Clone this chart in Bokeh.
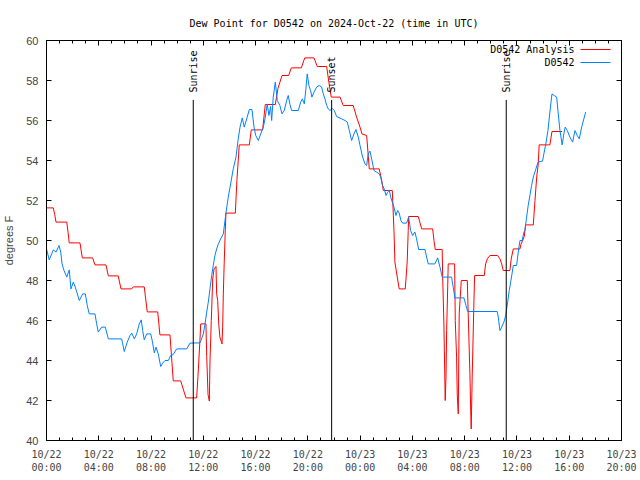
import math
from bokeh.plotting import figure
from bokeh.models import LinearAxis, FixedTicker, Range1d, Label, BoxAnnotation
from bokeh.core.properties import value
from bokeh.embed import file_html
from bokeh.resources import INLINE

MONO = "DejaVu Sans Mono"
SANS = "Liberation Sans"

title_text = "Dew Point for D0542 on 2024-Oct-22 (time in UTC)"
y_label = "degrees F"

# hours since 2024-10-22 00:00 UTC
analysis_hours = [0.00, 0.52, 0.63, 0.73, 1.55, 1.65, 1.74, 2.56, 2.74, 3.53, 3.71, 4.55, 4.73, 5.49,
                  5.70, 6.52, 6.64, 7.48, 7.71, 8.51, 8.68, 9.45, 9.70, 10.27, 10.67, 11.49, 11.59,
                  11.74, 11.80, 12.20, 12.26, 12.36, 12.46, 12.51, 12.61, 12.72, 12.82, 12.97, 13.02,
                  13.10, 13.18, 13.27, 13.43, 13.48, 13.53, 13.60, 13.68, 13.73, 14.45, 14.57, 14.75,
                  15.52, 15.67, 16.54, 16.74, 17.51, 17.71, 18.02, 18.53, 18.73, 19.50, 19.76, 20.47,
                  20.72, 21.44, 21.61, 21.79, 22.46, 22.71, 23.47, 23.73, 23.99, 24.14, 24.50, 24.70,
                  25.46, 25.65, 25.77, 26.46, 26.59, 26.66, 26.84, 26.99, 27.45, 27.51, 27.60, 27.68,
                  27.71, 28.45, 28.71, 29.55, 29.65, 29.75, 30.28, 30.31, 30.41, 30.51, 30.57, 30.62,
                  30.70, 30.74, 31.23, 31.28, 31.38, 31.43, 31.51, 31.58, 31.74, 32.20, 32.27, 32.40,
                  32.46, 32.50, 32.58, 32.71, 32.76, 33.50, 33.60, 33.73, 33.93, 34.52, 34.70, 34.83,
                  34.95, 35.46, 35.56, 35.72, 36.23, 36.30, 36.56, 36.66, 37.25, 37.38, 37.51, 37.63,
                  37.70, 38.52, 38.68, 39.46]
analysis_vals = [51.63, 51.63, 51.30, 50.92, 50.92, 50.40, 49.88, 49.88, 49.13, 49.13, 48.78, 48.78,
                 48.23, 48.23, 47.58, 47.58, 47.68, 47.68, 46.43, 46.43, 45.28, 45.28, 42.98, 42.98,
                 42.13, 42.13, 43.20, 45.00, 45.83, 45.83, 44.20, 42.30, 41.97, 43.92, 46.00, 48.08,
                 48.58, 48.70, 47.33, 47.00, 45.83, 45.17, 44.83, 45.67, 47.33, 48.92, 50.50, 51.37,
                 51.37, 53.00, 54.78, 54.78, 55.53, 55.53, 56.80, 56.80, 57.60, 58.25, 58.25, 58.63,
                 58.63, 59.13, 59.13, 58.70, 58.70, 57.90, 57.17, 57.17, 56.75, 56.75, 56.17, 55.67,
                 55.33, 55.25, 53.58, 53.58, 53.00, 52.50, 52.50, 50.50, 48.92, 48.17, 47.58, 47.58,
                 48.08, 48.92, 50.50, 51.20, 51.20, 50.58, 50.58, 50.00, 49.55, 49.55, 48.33, 45.83,
                 42.00, 43.17, 45.50, 47.67, 48.83, 48.83, 46.00, 44.17, 42.33, 41.33, 46.33, 48.00,
                 48.00, 46.33, 43.33, 41.50, 40.58, 43.33, 47.00, 48.25, 48.25, 48.83, 49.08, 49.25,
                 49.25, 49.08, 48.83, 48.50, 48.50, 49.08, 49.58, 49.58, 49.80, 50.20, 50.78, 50.78,
                 52.00, 53.17, 53.83, 54.78, 54.78, 55.45, 55.45]

station_hours = [0.00, 0.21, 0.52, 0.73, 0.96, 1.09, 1.19, 1.34, 1.55, 1.74, 1.87, 2.05, 2.20, 2.36,
                 2.51, 2.77, 2.97, 3.12, 3.27, 3.71, 3.84, 3.96, 4.22, 4.50, 4.73, 5.75, 5.83, 5.95,
                 6.18, 6.39, 6.52, 6.72, 6.90, 7.10, 7.25, 7.36, 7.48, 7.67, 7.97, 8.09, 8.25, 8.38,
                 8.55, 8.74, 8.89, 9.07, 9.32, 9.50, 9.70, 9.96, 10.73, 10.98, 11.74, 11.82, 12.00,
                 12.13, 12.26, 12.38, 12.51, 12.64, 12.76, 12.89, 13.02, 13.15, 13.33, 13.53, 13.73,
                 13.91, 14.09, 14.29, 14.50, 14.67, 14.81, 14.98, 15.13, 15.32, 15.52, 15.72, 15.88,
                 16.01, 16.21, 16.39, 16.59, 16.72, 16.89, 17.02, 17.15, 17.23, 17.35, 17.51, 17.66,
                 17.86, 18.02, 18.19, 18.38, 18.50, 18.63, 18.76, 19.27, 19.45, 19.58, 19.73, 19.85,
                 19.95, 20.08, 20.21, 20.31, 20.47, 20.67, 20.87, 21.05, 21.18, 21.31, 21.44, 21.56,
                 21.69, 21.87, 22.02, 22.20, 22.59, 22.84, 23.02, 23.17, 23.35, 23.53, 23.68, 23.86,
                 23.99, 24.19, 24.37, 24.50, 24.62, 24.75, 24.88, 25.06, 25.26, 25.46, 25.57, 25.72,
                 25.84, 25.98, 26.10, 26.23, 26.34, 26.46, 26.59, 26.74, 26.87, 26.99, 27.12, 27.25,
                 27.56, 27.71, 27.86, 28.02, 28.19, 28.32, 28.48, 28.96, 29.09, 29.21, 29.72, 29.93,
                 30.11, 30.28, 31.00, 31.12, 31.25, 31.94, 32.10, 32.23, 34.49, 34.57, 34.70, 34.83,
                 35.00, 35.14, 35.29, 35.41, 35.54, 35.72, 35.97, 36.10, 36.23, 36.40, 36.53, 36.61,
                 36.74, 36.86, 36.99, 37.12, 37.25, 37.45, 37.61, 37.96, 38.06, 38.22, 38.37, 38.52,
                 38.68, 38.85, 39.04, 39.16, 39.29, 39.46, 39.59, 39.69, 39.85, 40.05, 40.26, 40.44,
                 40.61, 40.77, 40.95, 41.12, 41.26]
station_vals = [49.58, 49.03, 49.53, 49.42, 49.75, 49.42, 48.83, 48.50, 48.17, 48.53, 47.58, 47.92,
                47.67, 47.33, 47.00, 47.33, 47.33, 46.75, 46.33, 46.33, 45.83, 45.42, 45.67, 45.67,
                45.08, 45.08, 44.83, 44.45, 44.92, 45.25, 45.37, 45.08, 45.33, 45.83, 46.03, 45.50,
                45.03, 45.33, 45.33, 45.00, 44.38, 44.67, 44.33, 43.70, 43.87, 44.00, 44.00, 44.25,
                44.30, 44.58, 44.58, 44.87, 44.88, 45.00, 45.33, 45.83, 46.42, 46.92, 47.58, 48.25,
                48.75, 49.25, 49.58, 49.83, 50.08, 50.33, 51.37, 52.17, 52.83, 53.58, 54.17, 55.08,
                55.67, 56.13, 55.67, 56.08, 56.55, 56.55, 55.67, 55.25, 55.00, 55.33, 55.67, 56.08,
                56.83, 56.25, 56.70, 56.00, 57.17, 57.92, 57.00, 56.75, 56.33, 56.50, 57.00, 57.25,
                56.80, 56.50, 56.50, 56.92, 57.08, 56.83, 57.58, 58.33, 57.75, 57.50, 57.17, 57.42,
                57.67, 57.75, 57.67, 57.33, 57.08, 56.75, 56.58, 56.50, 56.60, 56.50, 56.20, 56.08,
                56.00, 55.92, 55.50, 55.00, 55.33, 55.55, 55.17, 54.75, 54.17, 53.83, 53.75, 54.33,
                54.47, 54.08, 53.50, 53.42, 53.33, 53.17, 52.75, 52.58, 52.25, 52.40, 52.53, 52.17,
                51.92, 51.67, 51.25, 51.50, 51.37, 51.00, 50.87, 50.87, 51.17, 50.50, 50.25, 50.42,
                50.08, 49.55, 49.55, 49.17, 48.83, 48.83, 49.13, 48.67, 48.17, 48.17, 47.67, 47.13,
                47.13, 46.75, 46.45, 46.45, 46.17, 45.50, 45.67, 45.92, 46.25, 46.92, 47.50, 48.00,
                48.75, 48.75, 49.42, 50.00, 50.00, 50.42, 50.50, 51.17, 51.75, 52.25, 52.75, 53.17,
                53.58, 53.92, 53.97, 54.33, 54.87, 55.50, 56.42, 57.33, 57.25, 57.17, 56.33, 55.50,
                54.78, 55.33, 55.67, 55.50, 55.17, 54.92, 55.50, 55.25, 55.08, 55.67, 56.08, 56.42]

event_hours = [11.23, 21.82, 35.18]
event_names = ["Sunrise", "Sunset", "Sunrise"]
event_line_top = 57.03
event_text_y = 57.4

x_tick_hours = [0, 4, 8, 12, 16, 20, 24, 28, 32, 36, 40, 44]
x_tick_labels = ["10/22\n00:00", "10/22\n04:00", "10/22\n08:00", "10/22\n12:00", "10/22\n16:00",
                 "10/22\n20:00", "10/23\n00:00", "10/23\n04:00", "10/23\n08:00", "10/23\n12:00",
                 "10/23\n16:00", "10/23\n20:00"]
x_minor_hours = list(range(0, 45))
y_ticks = [40, 42, 44, 46, 48, 50, 52, 54, 56, 58, 60]

series_names = ["D0542 Analysis", "D0542"]
series_colors = ["#ff0000", "#0080ff"]

p = figure(frame_width=575, frame_height=400, x_range=Range1d(0, 44), y_range=Range1d(40, 60),
           output_backend="svg", toolbar_location=None,
           min_border_left=38, min_border_right=17, min_border_top=40, min_border_bottom=24,
           background_fill_color="white", border_fill_color="white")
p.outline_line_color = "black"
p.outline_line_width = 1
p.xgrid.visible = False
p.ygrid.visible = False

p.title.text = title_text
p.title.align = "center"
p.title.text_font = MONO
p.title.text_font_size = "10px"
p.title.text_font_style = "normal"
p.title.text_color = "black"
p.title.standoff = 23

def style_axis(ax, show_labels):
    ax.axis_line_color = "black"
    ax.major_tick_in = 5
    ax.major_tick_out = 0
    ax.minor_tick_in = 3
    ax.minor_tick_out = 0
    ax.major_tick_line_color = "black"
    ax.minor_tick_line_color = "black"
    if not show_labels:
        ax.major_label_text_font_size = "1px"
        ax.major_label_text_color = None
        ax.major_label_standoff = 0

# bottom x axis
xa = p.xaxis[0]
xa.ticker = FixedTicker(ticks=x_tick_hours, minor_ticks=x_minor_hours)
xa.major_label_overrides = {h: lbl for h, lbl in zip(x_tick_hours, x_tick_labels)}
style_axis(xa, True)
xa.major_label_text_font = MONO
xa.major_label_text_font_size = "10px"
xa.major_label_standoff = 8

# left y axis
ya = p.yaxis[0]
ya.ticker = FixedTicker(ticks=y_ticks, minor_ticks=[])
style_axis(ya, True)
ya.major_label_text_font = SANS
ya.major_label_text_font_size = "11px"
ya.major_label_standoff = 8
ya.axis_label = y_label
ya.axis_label_text_font = SANS
ya.axis_label_text_font_size = "11px"
ya.axis_label_text_font_style = "normal"
ya.axis_label_standoff = 8

# mirrored axes
top = LinearAxis(ticker=FixedTicker(ticks=x_tick_hours, minor_ticks=x_minor_hours))
style_axis(top, False)
p.add_layout(top, "above")
right = LinearAxis(ticker=FixedTicker(ticks=y_ticks, minor_ticks=[]))
style_axis(right, False)
p.add_layout(right, "right")

# data
p.line(analysis_hours, analysis_vals, line_color=series_colors[0], line_width=1)
p.line(station_hours, station_vals, line_color=series_colors[1], line_width=1)

# sunrise / sunset markers
p.segment(x0=event_hours, y0=[40] * len(event_hours), x1=event_hours,
          y1=[event_line_top] * len(event_hours), line_color="black", line_width=1)
p.text(x=event_hours, y=[event_text_y] * len(event_hours), text=event_names,
       angle=math.pi / 2, text_align="left", text_baseline="middle",
       text_font=value(MONO), text_font_size="10px", text_color="black")

# legend (gnuplot style: right-aligned text, then line sample)
for i, (name, col) in enumerate(zip(series_names, series_colors)):
    ysc = 400 - 9 - 13 * i
    p.add_layout(Label(x=528, y=ysc, x_units="screen", y_units="screen", text=name,
                       text_align="right", text_baseline="middle", text_font=MONO,
                       text_font_size="10px", text_color="black"))
    p.add_layout(BoxAnnotation(left=534, right=564, bottom=ysc - 0.5, top=ysc + 0.5,
                               left_units="screen", right_units="screen",
                               bottom_units="screen", top_units="screen",
                               fill_color=col, fill_alpha=1.0, line_color=None))

open("out.html", "w").write(file_html(p, INLINE))
